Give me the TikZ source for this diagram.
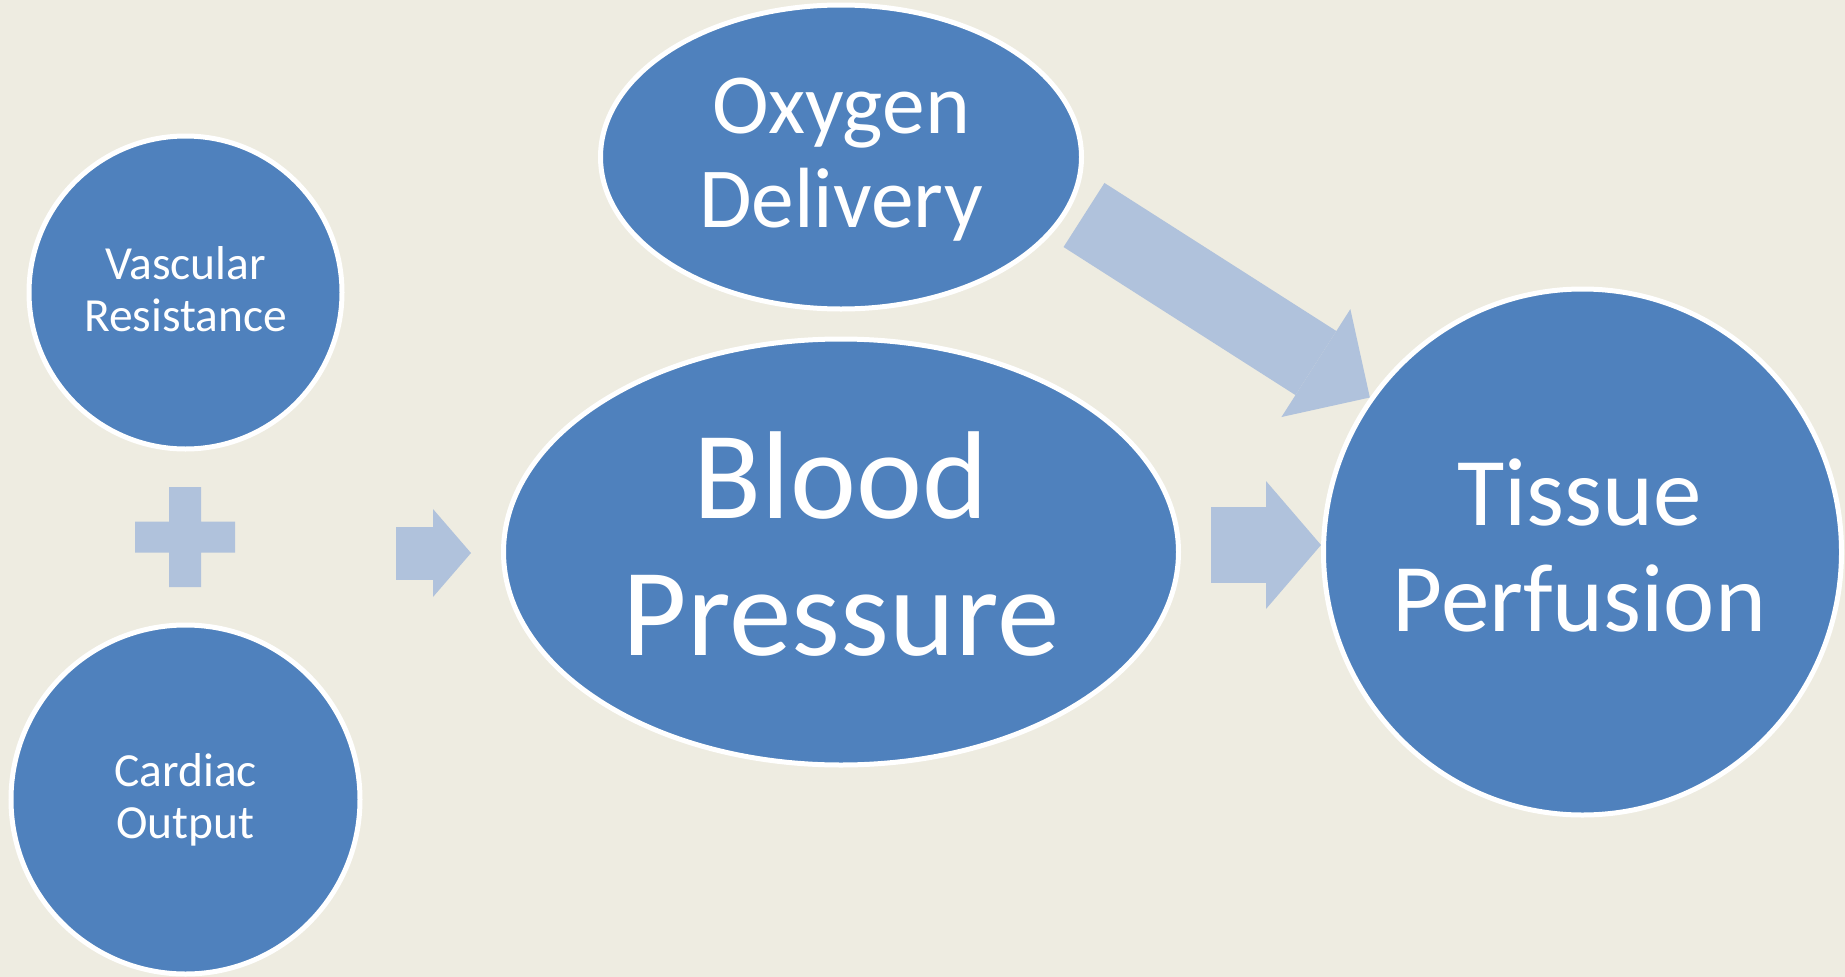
\documentclass[tikz,border=0pt]{standalone}
\usepackage{fontspec}
\setmainfont{Carlito}
\usetikzlibrary{shapes,arrows.meta,positioning,backgrounds}

\definecolor{slide}{HTML}{EEECE1}
\definecolor{bpblue}{HTML}{4F81BD}
\definecolor{paleblue}{HTML}{B0C2DC}

\begin{document}
\begin{tikzpicture}[x=1pt,y=-1pt,
                    bubble/.style={ellipse,fill=bpblue,draw=white,line width=5pt,inner sep=0pt},
                    txt/.style={text=white,align=center,inner sep=0pt,text depth=0pt},
                    small/.style={txt,font=\fontsize{47.5}{52}\selectfont,text height=82pt,yshift=2.5pt},
                    fat/.style={draw=paleblue,line width=76pt}]

  \path[use as bounding box] (0,0) rectangle (1845,977);

  \node[bubble,minimum width=675pt,minimum height=426pt,
        label={[txt,font=\fontsize{125}{137}\selectfont,text height=216pt,yshift=5pt]center:Blood\\Pressure}]
        (bp) at (841,552) {};
  \node[bubble,minimum width=481pt,minimum height=304pt,above=25pt of bp,
        label={[txt,font=\fontsize{85.5}{94}\selectfont,text height=148pt,yshift=4pt]center:Oxygen\\Delivery}]
        (od) {};
  \node[bubble,minimum width=518pt,minimum height=526pt,right=140pt of bp,
        label={[txt,font=\fontsize{97}{106.5}\selectfont,text height=167.5pt,yshift=4pt,xshift=-3pt]center:Tissue\\Perfusion}]
        (tp) {};
  \node[bubble,circle,minimum size=313pt,label={[small]center:Vascular\\Resistance}]
        (vr) at (185.5,292.5) {};
  \node[bubble,circle,minimum size=349pt,below=171pt of vr,label={[small]center:Cardiac\\Output}]
        (co) {};

  \coordinate (plus)   at (185,537);
  \coordinate (sum)    at (396,553);
  \coordinate (odtail) at ([yshift=-58pt]od.east);
  \coordinate (bptail) at ([xshift=30pt,yshift=7pt]bp.east);

  \begin{scope}[on background layer]
    \fill[slide] (0,0) rectangle (1845,977);
    \fill[paleblue] ([shift={(-16,-50)}]plus) rectangle ([shift={(16,50)}]plus)
                    ([shift={(-50,-15.5)}]plus) rectangle ([shift={(50,15.5)}]plus);
    \draw[fat,line width=53pt,shorten >=30pt,-{Triangle[length=38pt,width=88pt,line width=0pt]}]
          (sum) -- (sum -| bp.west);
    \draw[fat,-{Triangle[length=55pt,width=128pt,line width=0pt]}] (bptail) -- (bptail -| tp.west);
    \draw[fat,-{Triangle[length=64pt,width=128pt,line width=0pt]}] (odtail) -- (tp.144);
  \end{scope}
\end{tikzpicture}
\end{document}
